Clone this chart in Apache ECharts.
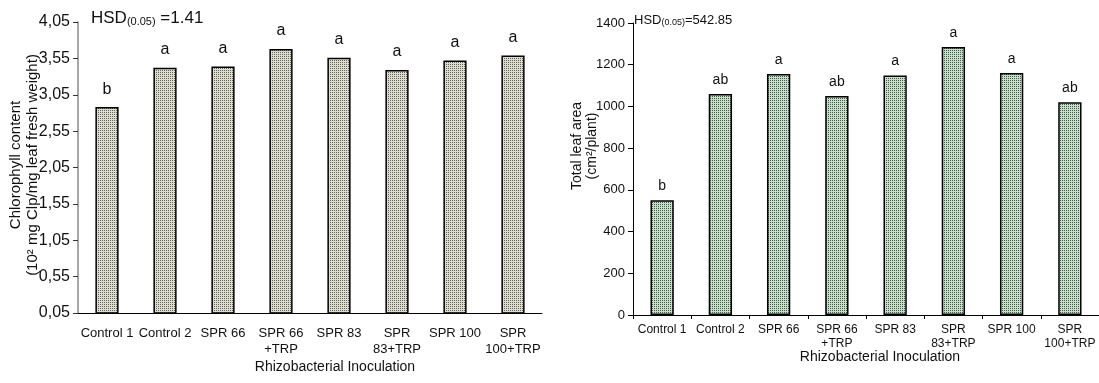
<!DOCTYPE html>
<html>
<head>
<meta charset="utf-8">
<script src="https://cdn.jsdelivr.net/npm/echarts@6/dist/echarts.min.js"></script>
<style>
  html, body { margin: 0; padding: 0; background: #fff; }
  #chart { width: 1099px; height: 383px; }
</style>
</head>
<body>
<div id="chart"></div>
<script>
// data
var categories = ['Control 1', 'Control 2', 'SPR 66', 'SPR 66\n+TRP', 'SPR 83', 'SPR\n83+TRP', 'SPR 100', 'SPR\n100+TRP'];
var chlorophyll = [2.88, 3.42, 3.44, 3.68, 3.56, 3.39, 3.52, 3.59];
var chlorophyllLetters = ['b', 'a', 'a', 'a', 'a', 'a', 'a', 'a'];
var leafArea = [550, 1060, 1155, 1050, 1148, 1285, 1160, 1020];
var leafAreaLetters = ['b', 'ab', 'a', 'ab', 'a', 'a', 'a', 'ab'];

// little dotted fill like the excel pattern
function dots(dark, light) {
  var c = document.createElement('canvas');
  c.width = 2; c.height = 2;
  var g = c.getContext('2d');
  g.fillStyle = light; g.fillRect(0, 0, 2, 2);
  g.fillStyle = dark; g.fillRect(0, 0, 1, 1);
  return { image: c, repeat: 'repeat' };
}

var font = 'Arial, "Liberation Sans", sans-serif';
var chart = echarts.init(document.getElementById('chart'));

var option = {
  animation: false,
  grid: [
    { left: 78, top: 22, width: 464, height: 291 },
    { left: 633, top: 23, width: 475, height: 292 }
  ],
  xAxis: [
    {
      gridIndex: 0, type: 'category', data: categories,
      axisLine: { lineStyle: { color: '#000', width: 1 } },
      axisTick: { show: false },
      axisLabel: { interval: 0, margin: 12, color: '#111', fontSize: 13, lineHeight: 16,
        fontFamily: '"Liberation Sans Narrow", Arial, sans-serif' }
    },
    {
      gridIndex: 1, type: 'category', data: categories,
      axisLine: { lineStyle: { color: '#000', width: 1 } },
      axisTick: { show: true, length: 4, lineStyle: { color: '#000' } },
      axisLabel: { interval: 0, margin: 8, color: '#111', fontSize: 12, lineHeight: 14, fontFamily: font }
    }
  ],
  yAxis: [
    {
      gridIndex: 0, type: 'value', min: 0.05, max: 4.05, interval: 0.5,
      splitLine: { show: false },
      axisLine: { show: true, lineStyle: { color: '#888', width: 1.5 } },
      axisTick: { show: true, length: 5, lineStyle: { color: '#333' } },
      axisLabel: { color: '#111', fontSize: 16, margin: 8, fontFamily: font,
        formatter: function (v) { return v.toFixed(2).replace('.', ','); } }
    },
    {
      gridIndex: 1, type: 'value', min: 0, max: 1400, interval: 200,
      splitLine: { show: false },
      axisLine: { show: true, lineStyle: { color: '#000', width: 1 } },
      axisTick: { show: true, length: 5, lineStyle: { color: '#000' } },
      axisLabel: { color: '#111', fontSize: 13, margin: 8, fontFamily: font,
        formatter: function (v) { return String(v); } }
    }
  ],
  series: [
    {
      type: 'bar', xAxisIndex: 0, yAxisIndex: 0, barWidth: '40%',
      data: chlorophyll,
      itemStyle: { color: dots('#66665a', '#dcdcd0'), borderColor: '#000', borderWidth: 1.5 },
      label: { show: true, position: 'top', distance: 10, fontSize: 16, color: '#111', fontFamily: font,
        formatter: function (p) { return chlorophyllLetters[p.dataIndex]; } }
    },
    {
      type: 'bar', xAxisIndex: 1, yAxisIndex: 1, barWidth: '40%',
      data: leafArea,
      itemStyle: { color: dots('#3e5e46', '#cddbcd'), borderColor: '#000', borderWidth: 1.5 },
      label: { show: true, position: 'top', distance: 7, fontSize: 14, color: '#111', fontFamily: font,
        formatter: function (p) { return leafAreaLetters[p.dataIndex]; } }
    }
  ],
  graphic: [
    { type: 'text', left: 91, top: 10, style: {
        text: '{a|HSD}{s|(0.05)}{a| =1.41}', fill: '#111', font: '17px ' + font,
        rich: { a: { fontSize: 17, fontFamily: font, verticalAlign: 'bottom' },
                s: { fontSize: 11, fontFamily: font, padding: [8, 0, 0, 0], verticalAlign: 'bottom' } } } },
    { type: 'text', left: 634, top: 14, style: {
        text: '{a|HSD}{s|(0.05)}{a|=542.85}', fill: '#111', font: '13px ' + font,
        rich: { a: { fontSize: 13, fontFamily: font, verticalAlign: 'bottom' },
                s: { fontSize: 9, fontFamily: font, padding: [6, 0, 0, 0], verticalAlign: 'bottom' } } } },
    { type: 'text', x: 24, y: 165, rotation: Math.PI / 2, style: {
        text: 'Chlorophyll content\n(10² mg Clp/mg leaf fresh weight)', fill: '#111',
        font: '15px ' + font, lineHeight: 17, align: 'center', verticalAlign: 'middle' } },
    { type: 'text', x: 585, y: 146, rotation: Math.PI / 2, style: {
        text: 'Total leaf area\n(cm²/plant)', fill: '#111',
        font: '14px ' + font, lineHeight: 15, align: 'center', verticalAlign: 'middle' } },
    { type: 'text', x: 335, y: 367, style: {
        text: 'Rhizobacterial Inoculation', fill: '#111', font: '14px ' + font,
        align: 'center', verticalAlign: 'middle' } },
    { type: 'text', x: 880, y: 357, style: {
        text: 'Rhizobacterial Inoculation', fill: '#111', font: '14px ' + font,
        align: 'center', verticalAlign: 'middle' } }
  ]
};
chart.setOption(option);
</script>
</body>
</html>
